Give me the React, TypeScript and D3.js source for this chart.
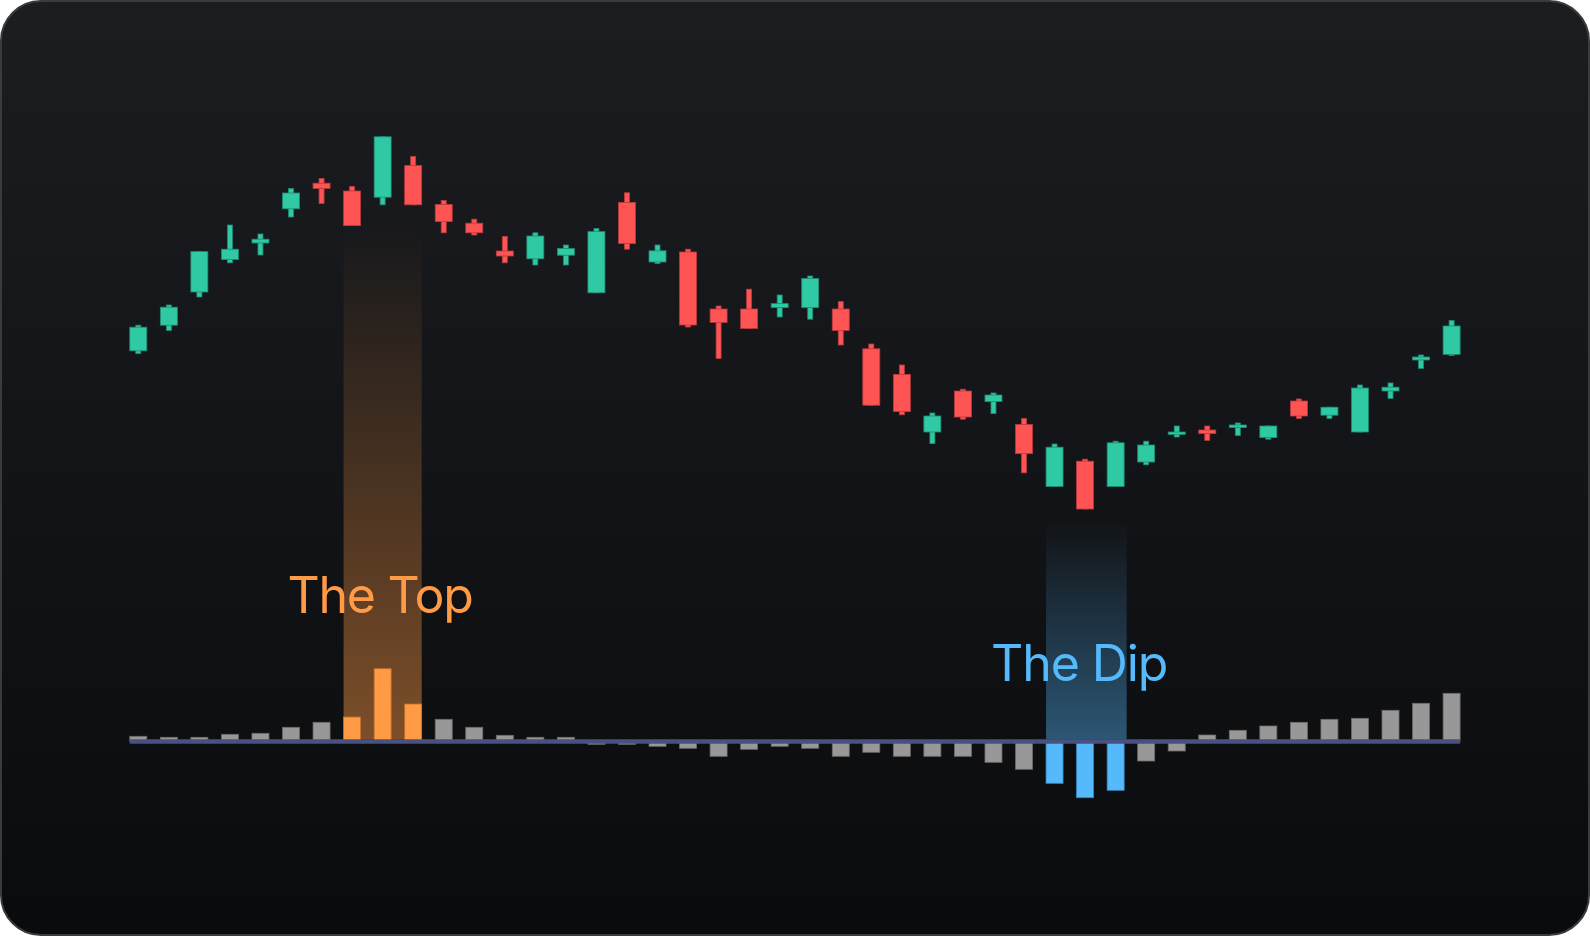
import React from "react";
import * as d3 from "d3";

// OHLC values (price units)
const opens = [52.3, 58.7, 67.0, 75.1, 79.25, 87.8, 94.2, 92.25, 90.7, 98.6, 88.9, 84.2, 77.25, 75.3, 76.2, 66.8, 89.4, 74.5, 77.0, 62.75, 62.75, 63.1, 63.1, 62.75, 52.8, 46.4, 32.0, 42.25, 39.6, 33.9, 18.4, 24.7, 18.4, 24.5, 31.4, 32.5, 33.1, 30.6, 39.75, 36.2, 32.0, 42.25, 50.0, 51.4];
const closes = [58.2, 63.2, 77.1, 77.7, 80.2, 91.75, 92.9, 83.6, 105.8, 88.8, 84.6, 81.8, 76.0, 81.0, 77.9, 82.1, 79.1, 77.3, 58.75, 59.4, 57.9, 64.1, 70.4, 57.4, 38.7, 37.1, 36.0, 35.75, 41.25, 26.6, 28.2, 12.75, 29.3, 28.75, 32.0, 31.6, 33.75, 33.5, 36.0, 38.2, 43.0, 43.2, 50.75, 58.5];
const highs = [58.7, 63.75, 77.1, 83.75, 81.5, 92.9, 95.4, 93.4, 105.8, 100.9, 89.9, 85.2, 80.9, 81.8, 78.75, 82.9, 91.8, 78.75, 77.7, 63.5, 67.7, 66.25, 71.0, 64.6, 54.0, 48.75, 36.75, 42.7, 41.75, 35.4, 29.0, 25.2, 29.7, 29.7, 33.5, 33.5, 34.25, 33.5, 40.25, 38.2, 43.75, 44.25, 51.25, 59.9];
const lows = [51.6, 57.4, 65.75, 74.3, 76.25, 85.75, 89.1, 83.6, 88.8, 88.8, 81.8, 81.25, 74.3, 73.75, 73.75, 66.8, 77.7, 74.1, 58.25, 50.4, 57.9, 60.75, 60.2, 53.75, 38.7, 36.3, 29.1, 35.2, 36.6, 21.8, 18.4, 12.75, 18.4, 23.8, 30.75, 29.9, 31.1, 30.2, 35.4, 35.4, 32.0, 40.4, 47.9, 51.1];

// Oscillator / volume-like histogram
const volumes = [52, 42, 42, 72, 82, 142, 192, 245, 728, 375, 222, 142, 62, 42, 42, -28, -28, -48, -68, -148, -78, -48, -68, -148, -108, -148, -148, -148, -208, -278, -418, -562, -488, -195, -95, 65, 112, 155, 192, 222, 232, 312, 382, 482];

const topRange = [7, 9];
const dipRange = [30, 32];
const topLabel = "The Top";
const dipLabel = "The Dip";

const W = 1590;
const H = 936;

const GREEN = "#2fc9a4";
const GREEN_STROKE = "#1f8a72";
const RED = "#ff5454";
const RED_STROKE = "#b83b3d";
const ORANGE = "#ff9a45";
const BLUE = "#55bafc";

export default function App() {
  const n = opens.length;
  const x = d3.scaleLinear().domain([0, n - 1]).range([138.3, 1451.6]);
  const y = d3.scaleLinear().domain([0, 140]).range([560, 0]);
  const yv = d3.scaleLinear().domain([-1000, 1000]).range([841.5, 641.5]);
  const bodyW = 17;
  const wickW = 5;
  const base = yv(0);

  const band = (r: number[], extra: number) => {
    const x0 = x(r[0]) - bodyW / 2;
    const x1 = x(r[1]) + bodyW / 2 + extra;
    let lowY = 0;
    for (let i = r[0]; i <= r[1]; i++) lowY = Math.max(lowY, y(lows[i]));
    return { x0, x1, y0: lowY + 1, y1: base - 2 };
  };
  const tb = band(topRange, 0);
  const db = band(dipRange, 2.5);

  const inRange = (i: number, r: number[]) => i >= r[0] && i <= r[1];

  return (
    <svg
      width={W}
      height={H}
      style={{ position: "absolute", left: 0, top: 0, display: "block" }}
    >
      <defs>
        <linearGradient id="bg" x1="0" y1="0" x2="0" y2="1">
          <stop offset="0" stopColor="#1c1d21" />
          <stop offset="1" stopColor="#0a0b0d" />
        </linearGradient>
        <linearGradient id="gTop" x1="0" y1="0" x2="0" y2="1">
          <stop offset="0" stopColor={ORANGE} stopOpacity={0} />
          <stop offset="1" stopColor={ORANGE} stopOpacity={0.46} />
        </linearGradient>
        <linearGradient id="gDip" x1="0" y1="0" x2="0" y2="1">
          <stop offset="0" stopColor={BLUE} stopOpacity={0} />
          <stop offset="1" stopColor={BLUE} stopOpacity={0.42} />
        </linearGradient>
      </defs>
      <rect x={0} y={0} width={W} height={H} fill="#ffffff" />
      <rect x={1} y={1} width={W - 2} height={H - 2} rx={40} ry={40} fill="url(#bg)" stroke="#3a3b3e" strokeWidth={2} />

      {/* highlight bands */}
      <rect x={tb.x0} y={tb.y0} width={tb.x1 - tb.x0} height={tb.y1 - tb.y0} fill="url(#gTop)" />
      <rect x={db.x0} y={db.y0 + 10} width={db.x1 - db.x0} height={db.y1 - db.y0 - 10} fill="url(#gDip)" />

      {/* labels */}
      <text
        x={tb.x0 - 56}
        y={613}
        fill={ORANGE}
        fontFamily="Inter, 'Noto Sans', sans-serif"
        fontSize={50}
        fontWeight={400}
        letterSpacing={-1.3}
      >
        {topLabel}
      </text>
      <text
        x={db.x0 - 55}
        y={681}
        fill={BLUE}
        fontFamily="Inter, 'Noto Sans', sans-serif"
        fontSize={50}
        fontWeight={400}
        letterSpacing={-1.1}
      >
        {dipLabel}
      </text>

      {/* candles */}
      {opens.map((o, i) => {
        const c = closes[i];
        const up = c >= o;
        const fill = up ? GREEN : RED;
        const stroke = up ? GREEN_STROKE : RED_STROKE;
        const cx = x(i);
        const yTop = y(Math.max(o, c));
        const yBot = y(Math.min(o, c));
        return (
          <g key={"c" + i}>
            <rect
              x={cx - wickW / 2}
              y={y(highs[i])}
              width={wickW}
              height={Math.max(1, y(lows[i]) - y(highs[i]))}
              fill={fill}
              stroke={stroke}
              strokeWidth={0.8}
            />
            <rect
              x={cx - bodyW / 2}
              y={yTop}
              width={bodyW}
              height={Math.max(2, yBot - yTop)}
              fill={fill}
              stroke={stroke}
              strokeWidth={0.8}
            />
          </g>
        );
      })}

      {/* histogram */}
      {volumes.map((v, i) => {
        const cx = x(i);
        const hi = inRange(i, topRange);
        const lo = inRange(i, dipRange);
        const fill = hi ? ORANGE : lo ? BLUE : "#989898";
        const stroke = hi ? "#c46f2c" : lo ? "#3b86bb" : "#6c6c6c";
        const y0 = Math.min(yv(v), base);
        const y1 = Math.max(yv(v), base);
        return (
          <rect
            key={"v" + i}
            x={cx - bodyW / 2}
            y={y0}
            width={bodyW}
            height={y1 - y0}
            fill={fill}
            stroke={stroke}
            strokeWidth={0.8}
          />
        );
      })}

      {/* baseline */}
      <line
        x1={x(0) - bodyW / 2}
        x2={x(n - 1) + bodyW / 2}
        y1={base}
        y2={base}
        stroke="#4a5180"
        strokeWidth={4.4}
      />
    </svg>
  );
}
